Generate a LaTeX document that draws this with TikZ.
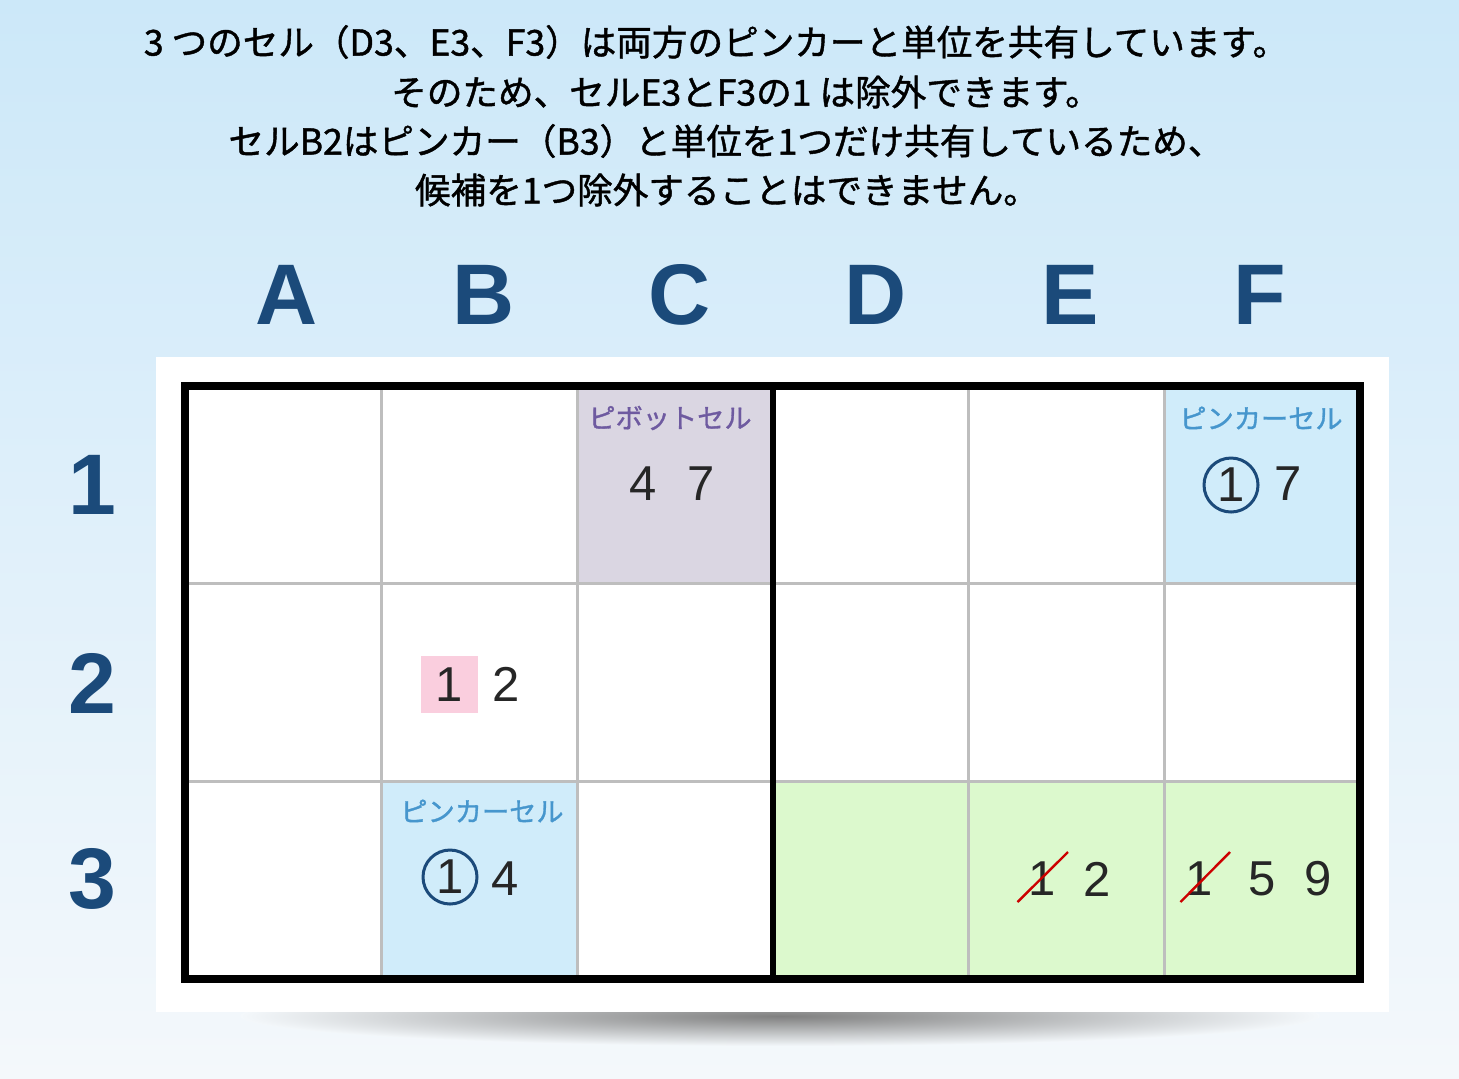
\documentclass[tikz,border=0pt]{standalone}
\usepackage{fontspec}
\setmainfont{Liberation Sans}
\newfontfamily\jpfont[FakeBold=1.2]{Noto Sans CJK JP}
\usepackage{tikz}

\definecolor{bgtop}{RGB}{204,232,249}
\definecolor{bgbot}{RGB}{244,248,251}
\definecolor{headblue}{RGB}{27,74,122}
\definecolor{pivotfill}{RGB}{218,214,226}
\definecolor{pincerfill}{RGB}{208,236,250}
\definecolor{wingfill}{RGB}{220,249,205}
\definecolor{markpink}{RGB}{250,206,222}
\definecolor{pivottext}{RGB}{110,90,160}
\definecolor{pincertext}{RGB}{70,150,205}
\definecolor{gridgray}{RGB}{190,190,190}

\tikzset{
  msg/.style={font=\jpfont\fontsize{17.8}{20}\selectfont, inner sep=0pt},
  colhead/.style={font=\bfseries\fontsize{43}{43}\selectfont, text=headblue, inner sep=0pt},
  cand/.style={font=\fontsize{24.5}{24.5}\selectfont, text=black!85, inner sep=0pt},
  pinned/.style={cand, circle, draw=headblue, line width=1.5pt, minimum size=27pt},
  celltag/.style={font=\jpfont\fontsize{13.6}{14}\selectfont, inner sep=0pt},
  strike/.style={red!80!black, line width=1.2pt}
}

\begin{document}
\begin{tikzpicture}[x=0.5pt,y=-0.5pt]
    \useasboundingbox (0,0) rectangle (1459,1078);
    % background
    \shade[top color=bgtop, bottom color=bgbot] (0,0) rectangle (1459,1078);
    % explanation
    \node[msg] (line1) at (716,42) {3 つのセル（D3、E3、F3）は両方のピンカーと単位を共有しています。};
    \node[msg] (line2) at (746,92) {そのため、セルE3とF3の1 は除外できます。};
    \node[msg] (line3) at (726,141) {セルB2はピンカー（B3）と単位を1つだけ共有しているため、};
    \node[msg] (line4) at (727,190) {候補を1つ除外することはできません。};
    % headers
    \foreach \l/\x in {A/287,B/484,C/680,D/876,E/1070,F/1260}
      \node[colhead] (col\l) at (\x,295) {\l};
    \foreach \r/\y in {1/485,2/683,3/879}
      \node[colhead] (row\r) at (92,\y) {\r};
    % panel with shadow
    \shade[inner color=black!50, outer color=bgbot] (780,1016) ellipse (540 and 30);
    \fill[white] (156,357) rectangle (1389,1012);
    % cell colours
    \fill[pivotfill] (577,385.5) rectangle (772.5,583);
    \fill[pincerfill] (1164,385.5) rectangle (1360,583);
    \fill[pincerfill] (381,781) rectangle (577,979);
    \fill[wingfill] (772.5,781) rectangle (1360,979);
    % grid
    \foreach \x in {381,577,968,1164}
      \draw[gridgray, line width=1.5pt] (\x,385.5) -- (\x,979);
    \foreach \y in {583,781}
      \draw[gridgray, line width=1.5pt] (185,\y) -- (1360,\y);
    \draw[line width=3pt] (772.5,385.5) -- (772.5,979);
    \draw[line width=4pt] (185,385.5) rectangle (1360,979);
    % cell tags
    \node[celltag, text=pivottext] (tagC1) at (670,418) {ピボットセル};
    \node[celltag, text=pincertext] (tagF1) at (1261,418) {ピンカーセル};
    \node[celltag, text=pincertext] (tagB3) at (482,811) {ピンカーセル};
    % candidates
    \foreach \n/\x/\y/\d in {c1a/643/484/4, c1b/701/484/7, f1b/1288/484/7,
        b2b/506/684/2, b3b/505/879/4, e3a/1042/879/1, e3b/1097/879/2,
        f3a/1199/879/1, f3b/1262/879/5, f3c/1318/879/9}
      \node[cand] (\n) at (\x,\y) {\d};
    \node[pinned] (f1a) at (1231,485) {1};
    \node[pinned] (b3a) at (450,877) {1};
    \node[cand, fill=markpink, minimum width=28.5pt, minimum height=28.5pt] (b2a) at (449.5,684.5) {1};
    % eliminated
    \draw[strike] ([shift={(-24.5,23)}]e3a.center) -- ([shift={(26,-27)}]e3a.center);
    \draw[strike] ([shift={(-18.5,23)}]f3a.center) -- ([shift={(31,-27)}]f3a.center);
\end{tikzpicture}
\end{document}
